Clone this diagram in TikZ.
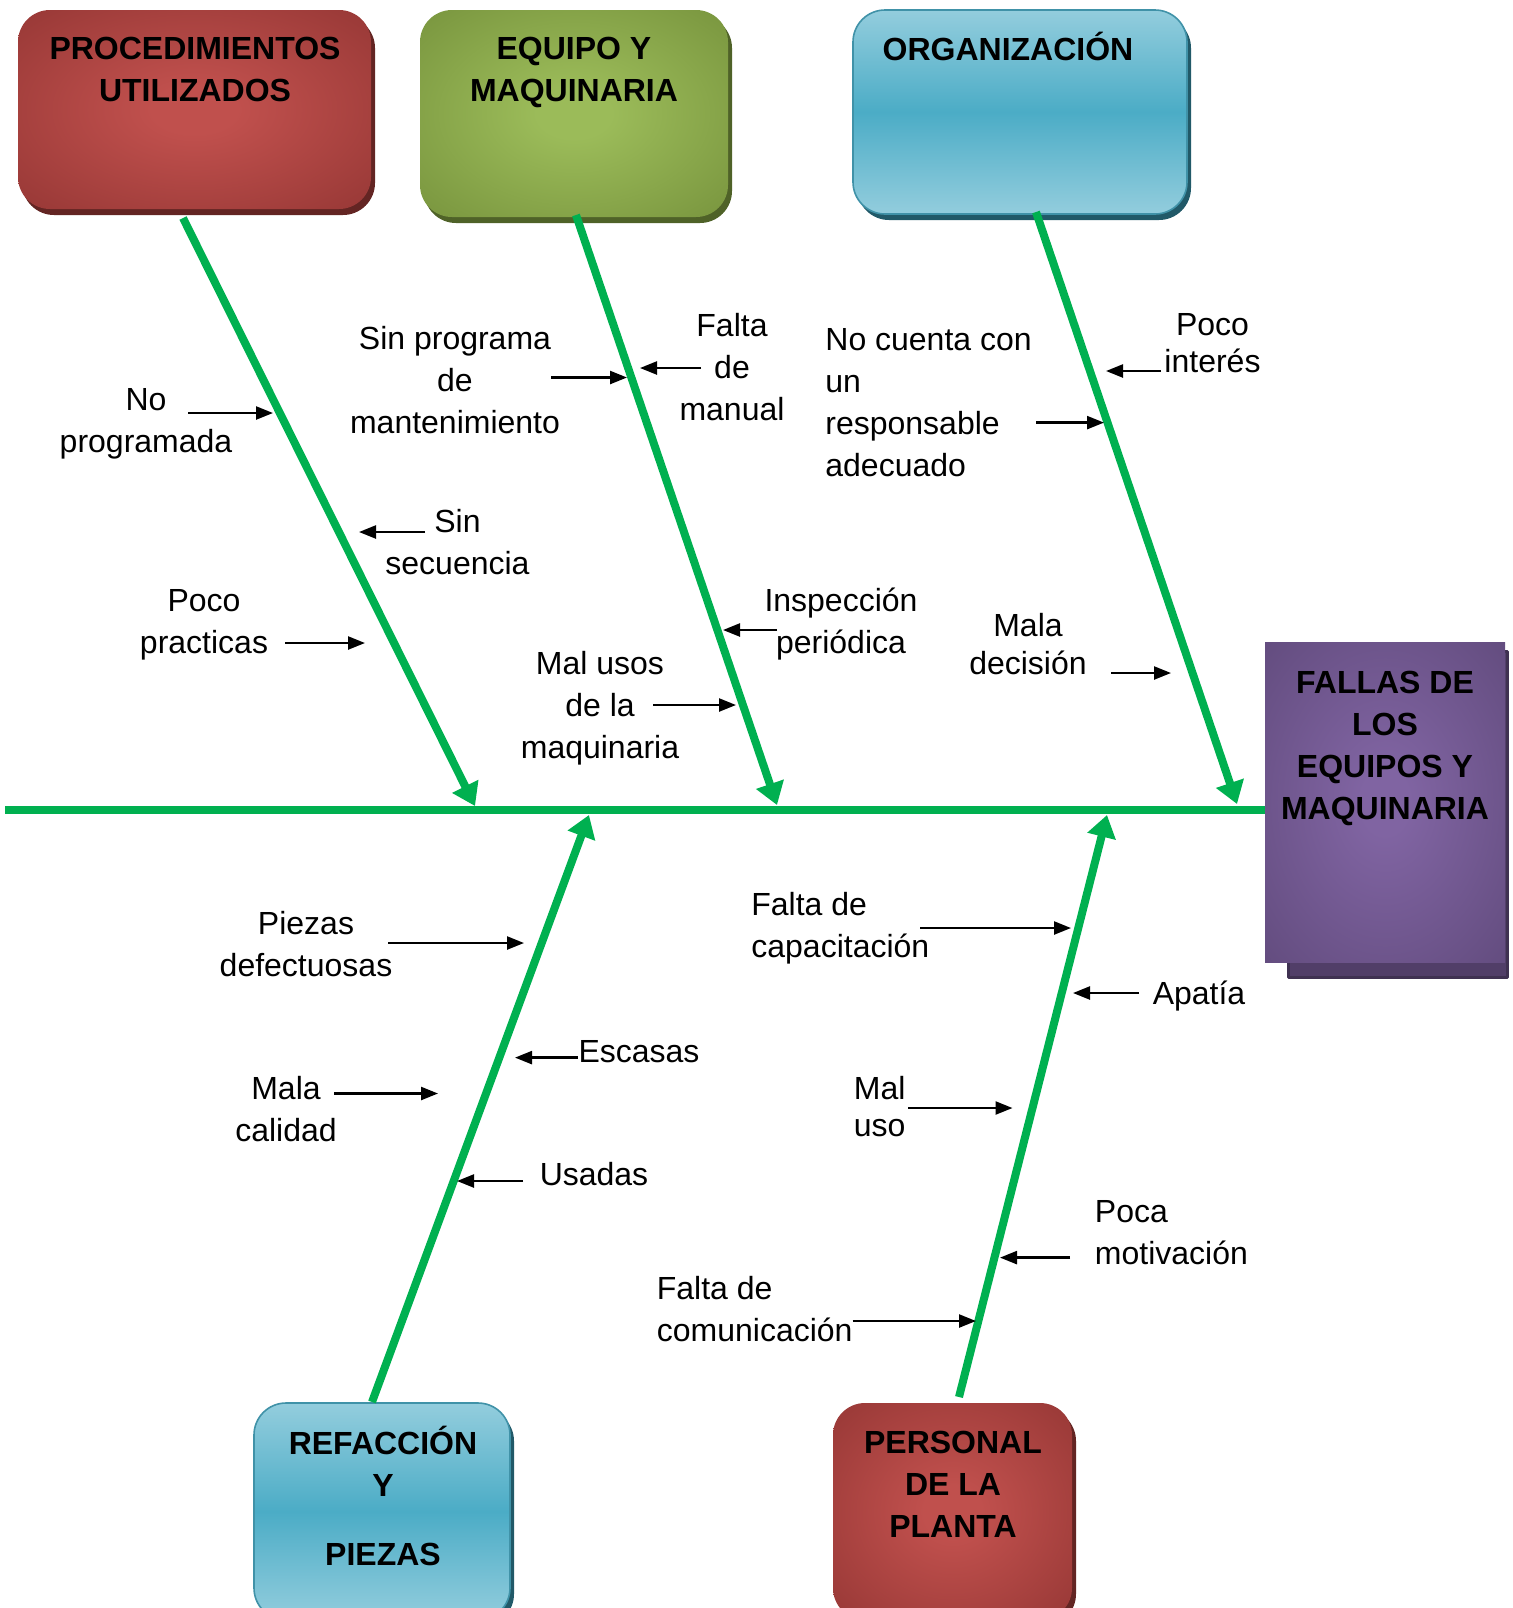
\documentclass[tikz,border=0pt]{standalone}
\usepackage{fontspec}
\setmainfont{Liberation Sans}
\usetikzlibrary{arrows.meta,shadows}
\definecolor{bonegreen}{HTML}{00B050}
\definecolor{redC}{HTML}{C0504D}
\definecolor{redE}{HTML}{943634}
\definecolor{redS}{HTML}{632523}
\definecolor{grnC}{HTML}{9BBB59}
\definecolor{grnE}{HTML}{76923C}
\definecolor{grnS}{HTML}{4F6228}
\definecolor{bluL}{HTML}{93CDDD}
\definecolor{bluM}{HTML}{4BACC6}
\definecolor{bluS}{HTML}{215968}
\definecolor{purC}{HTML}{8064A2}
\definecolor{purE}{HTML}{5F497A}
\definecolor{purS}{HTML}{3F3151}
\pgfdeclareradialshading{redglow}{\pgfpointorigin}{color(0bp)=(redC); color(6bp)=(redC); color(38bp)=(redE); color(50bp)=(redE)}
\pgfdeclareradialshading{grnglow}{\pgfpointorigin}{color(0bp)=(grnC); color(6bp)=(grnC); color(38bp)=(grnE); color(50bp)=(grnE)}
\pgfdeclareradialshading{purglow}{\pgfpointorigin}{color(0bp)=(purC); color(5bp)=(purC); color(40bp)=(purE); color(50bp)=(purE)}
\begin{document}
\begin{tikzpicture}[x=0.5pt,y=-0.5pt,line join=round,
  spine/.style={line width=4pt,draw=bonegreen},
  bone/.style={line width=4pt,draw=bonegreen,-{Triangle[length=11pt,width=14pt]}},
  sarrow/.style={line width=1.2pt,-{Triangle[length=8.5pt,width=6.5pt]}},
  lbl/.style={font=\fontsize{16}{21}\selectfont,align=center,inner sep=0pt},
  lbll/.style={lbl,align=left,anchor=west},
  title/.style={font=\fontsize{16}{21}\selectfont\bfseries,align=center,inner sep=0pt},
  cbox/.style={rectangle,rounded corners=16pt,inner sep=0pt},
  redbox/.style={cbox,shade,shading=redglow,drop shadow={shadow xshift=2pt,shadow yshift=-3pt,opacity=1,fill=redS}},
  grnbox/.style={cbox,shade,shading=grnglow,drop shadow={shadow xshift=2pt,shadow yshift=-3pt,opacity=1,fill=grnS}},
  blubox/.style={cbox,top color=bluL,bottom color=bluL,middle color=bluM,draw=bluM!85!black,line width=0.8pt,drop shadow={shadow xshift=2pt,shadow yshift=-3pt,opacity=1,fill=bluS}},
  effbox/.style={rectangle,inner sep=0pt,shade,shading=purglow}
]
\path[use as bounding box] (0,0) rectangle (1513,1608);
\clip (0,0) rectangle (1513,1608);

% category boxes
\node[redbox,minimum width=176.5pt,minimum height=99.5pt] (proc) at (194.5,109.5) {};
\node[grnbox,minimum width=154pt,minimum height=103.5pt] (equip) at (574,113.5) {};
\node[blubox,minimum width=167pt,minimum height=102pt] (org) at (1020,112) {};
\node[blubox,minimum width=128pt,minimum height=108.5pt] (refa) at (382,1511.5) {};
\node[redbox,minimum width=119.5pt,minimum height=108.5pt] (pers) at (952.5,1511.5) {};

\node[title] (procT) at (195,69) {PROCEDIMIENTOS\\UTILIZADOS};
\node[title] (equipT) at (574,72) {EQUIPO Y\\MAQUINARIA};
\node[title] (orgT) at (1008,46) {ORGANIZACIÓN};
\node[title] (refaT) at (383,1496) {REFACCIÓN\\Y\\[13.5pt]PIEZAS};
\node[title] (persT) at (953,1484) {PERSONAL\\DE LA\\PLANTA};

% effect box
\fill[fill=purE!85!black,draw=purS,line width=1.5pt] (1288,651) rectangle (1507,977);
\node[effbox,minimum width=120pt,minimum height=160pt] (effect) at (1385,802) {};
\node[title] (effT) at (1385,748) {FALLAS DE\\LOS\\EQUIPOS Y\\MAQUINARIA};

% spine
\coordinate (spL) at (5,810);
\draw[spine] (spL) -- (spL -| effect.west);

% bones
\coordinate (b1s) at (183,218);  \coordinate (b1e) at (475,806);
\coordinate (b2s) at (576,215);  \coordinate (b2e) at (777,805);
\coordinate (b3s) at (1036,212); \coordinate (b3e) at (1237,804);
\coordinate (b4s) at (372,1402); \coordinate (b4e) at (589,815);
\coordinate (b5s) at (959,1397); \coordinate (b5e) at (1107,815);
\draw[bone] (b1s) -- (b1e);
\draw[bone] (b2s) -- (b2e);
\draw[bone] (b3s) -- (b3e);
\draw[bone] (b4s) -- (b4e);
\draw[bone] (b5s) -- (b5e);

% labels
\node[lbl] (l1) at (146,424) {No\\programada};
\node[lbl] (l2) at (455,380.5) {Sin programa\\de\\mantenimiento};
\node[lbl] (l3) at (732,367.5) {Falta\\de\\manual};
\node[lbl] (l4) at (457.5,542) {Sin\\secuencia};
\node[lbl] (l5) at (204,624.5) {Poco\\practicas};
\node[lbl] (l6) at (841,624) {Inspección\\periódica};
\node[lbl] (l7) at (600,708) {Mal usos\\de la\\maquinaria};
\node[lbll] (l8) at (825,403) {No cuenta con\\un\\responsable\\adecuado};
\node[lbl] (l9) at (1212.5,343.5) {Poco\\[-2.5pt]interés};
\node[lbl] (l10) at (1028,644) {Mala\\[-2pt]decisión};
\node[lbl] (l11) at (306,944) {Piezas\\defectuosas};
\node[lbl] (l12) at (639,1051.5) {Escasas};
\node[lbl] (l13) at (286,1109) {Mala\\calidad};
\node[lbl] (l14) at (594,1174.5) {Usadas};
\node[lbll] (l15) at (751,928) {Falta de\\capacitación};
\node[lbl] (l16) at (1199,996) {Apatía};
\node[lbll] (l17) at (853.5,1106.5) {Mal\\[-2.5pt]uso};
\node[lbll] (l18) at (1094.5,1232.5) {Poca\\motivación};
\node[lbll] (l19) at (656.5,1309) {Falta de\\comunicación};

% small arrows
\coordinate (s1) at (188,413);     \coordinate (t1) at (273,413);
\coordinate (s2) at (551,377.5);   \coordinate (t2) at (627,377.5);
\coordinate (s3) at (701,368);     \coordinate (t3) at (640,368);
\coordinate (s4) at (425,532);     \coordinate (t4) at (359,532);
\coordinate (s5) at (285,643);     \coordinate (t5) at (365,643);
\coordinate (s6) at (777,630);     \coordinate (t6) at (723,630);
\coordinate (s7) at (653,705);     \coordinate (t7) at (736,705);
\coordinate (s8) at (1036,422.6);  \coordinate (t8) at (1104,422.6);
\coordinate (s9) at (1161,371);    \coordinate (t9) at (1106,371);
\coordinate (s10) at (1111,673);   \coordinate (t10) at (1171,673);
\coordinate (s11) at (388,943);    \coordinate (t11) at (524,943);
\coordinate (s12) at (577.5,1057.6); \coordinate (t12) at (515,1057.6);
\coordinate (s13) at (334,1093.5); \coordinate (t13) at (438,1093.5);
\coordinate (s14) at (523,1181);   \coordinate (t14) at (457,1181);
\coordinate (s15) at (920,928);    \coordinate (t15) at (1071,928);
\coordinate (s16) at (1139,993);   \coordinate (t16) at (1073,993);
\coordinate (s17) at (908,1108);   \coordinate (t17) at (1012.5,1108);
\coordinate (s18) at (1070,1257.6); \coordinate (t18) at (1000,1257.6);
\coordinate (s19) at (852.5,1321); \coordinate (t19) at (976,1321);
\foreach \i in {1,...,19} {\draw[sarrow] (s\i) -- (t\i);}
\end{tikzpicture}
\end{document}
